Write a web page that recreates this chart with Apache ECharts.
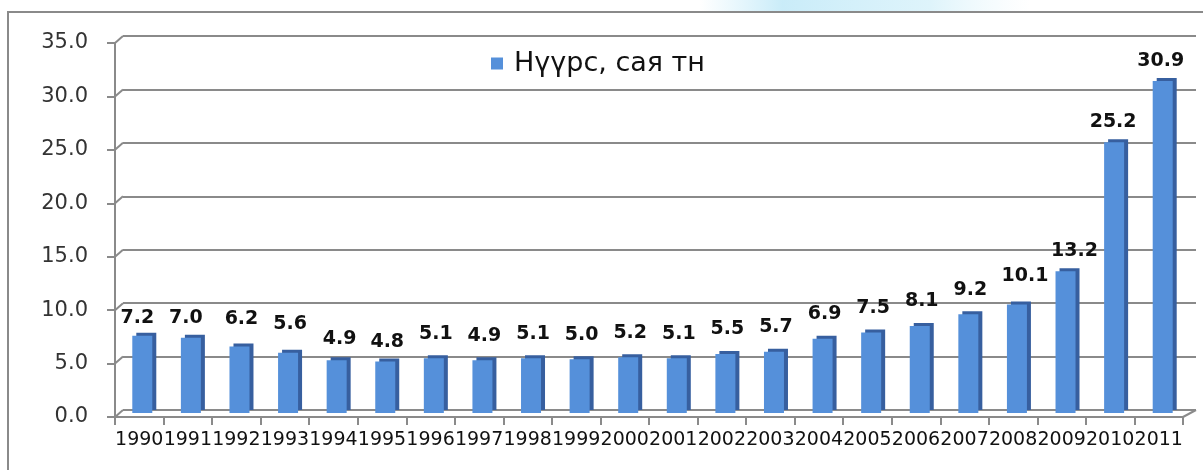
<!DOCTYPE html>
<html>
<head>
<meta charset="utf-8">
<script src="https://cdn.jsdelivr.net/npm/echarts@6/dist/echarts.min.js"></script>
<style>
    html, body { margin: 0; padding: 0; background: #fff; }
    #chart { width: 1203px; height: 470px; }
</style>
</head>
<body>
<div id="chart"></div>
<script>
// coal output, million tonnes
let years = ['1990', '1991', '1992', '1993', '1994', '1995', '1996', '1997', '1998', '1999', '2000',
    '2001', '2002', '2003', '2004', '2005', '2006', '2007', '2008', '2009', '2010', '2011'];
let coal = [7.2, 7.0, 6.2, 5.6, 4.9, 4.8, 5.1, 4.9, 5.1, 5.0, 5.2,
    5.1, 5.5, 5.7, 6.9, 7.5, 8.1, 9.2, 10.1, 13.2, 25.2, 30.9];
let yTicks = [0, 5, 10, 15, 20, 25, 30, 35];
let seriesName = 'Нүүрс, сая тн';

// label placement in the source is a little uneven: [px right of bar centre, px above bar top]
let labelNudge = [[-5, 8], [-5, 10], [2, 18], [2, 19], [3, 12], [2, 10], [2, 15], [2, 15],
    [2, 15], [2, 15], [2, 15], [2, 15], [2, 15], [2, 15], [2, 15], [2, 15], [2, 15],
    [2, 15], [8, 19], [9, 11], [-1, 11], [-2, 10]];

let gray = '#8a8a8a';
let yMin = yTicks[0];
let yMax = yTicks[yTicks.length - 1];
let yStep = yTicks[1] - yTicks[0];

let valueAxis = (gridIndex, extra) => Object.assign({
    type: 'value',
    gridIndex: gridIndex,
    min: yMin,
    max: yMax,
    interval: yStep,
    axisLine: { show: false },
    axisTick: { show: false },
    axisLabel: { show: false },
    splitLine: { show: false }
}, extra);

let catAxis = (gridIndex, extra) => Object.assign({
    type: 'category',
    gridIndex: gridIndex,
    data: years,
    axisLine: { show: false },
    axisTick: { show: false },
    axisLabel: { show: false },
    splitLine: { show: false }
}, extra);

let option = {
    animation: false,
    backgroundColor: '#fff',
    graphic: [
        {   // faint logo smear above the frame
            type: 'rect',
            z: -10,
            shape: { x: 700, y: 0, width: 330, height: 13 },
            style: {
                fill: {
                    type: 'linear', x: 0, y: 0, x2: 1, y2: 0,
                    colorStops: [
                        { offset: 0, color: 'rgba(200,236,250,0)' },
                        { offset: 0.25, color: 'rgba(196,234,248,0.9)' },
                        { offset: 0.7, color: 'rgba(214,241,250,0.8)' },
                        { offset: 1, color: 'rgba(230,246,252,0)' }
                    ]
                }
            }
        },
        {   // chart frame
            type: 'rect',
            shape: { x: 8, y: 12, width: 1230, height: 500 },
            style: { fill: 'none', stroke: gray, lineWidth: 2 }
        }
    ],
    legend: {
        left: 486,
        top: 45,
        icon: 'rect',
        itemWidth: 12,
        itemHeight: 12,
        textStyle: {
            fontFamily: 'DejaVu Sans',
            fontSize: 27,
            color: '#111',
            padding: [0, 0, 0, 6]
        },
        data: [seriesName]
    },
    grid: [
        // front: axis labels and ticks
        { left: 115, right: 20, top: 43, bottom: 53 },
        // middle: bars
        { left: 118, right: 16, top: 37, bottom: 57 },
        // back wall: grid lines
        { left: 123, right: 7, top: 36, bottom: 60 }
    ],
    xAxis: [
        catAxis(0, {
            axisLine: { show: true, lineStyle: { color: gray, width: 2 } },
            axisTick: { show: true, length: 8, lineStyle: { color: gray, width: 2 } },
            axisLabel: {
                show: true,
                interval: 0,
                margin: 14,
                fontFamily: 'DejaVu Sans',
                fontSize: 19,
                color: '#111'
            }
        }),
        catAxis(1),
        catAxis(2)
    ],
    yAxis: [
        valueAxis(0, {
            axisLine: { show: true, lineStyle: { color: gray, width: 2 } },
            axisTick: { show: true, length: 8, lineStyle: { color: gray, width: 2 } },
            axisLabel: {
                show: true,
                margin: 27,
                fontFamily: 'DejaVu Sans',
                fontSize: 21,
                color: '#333',
                formatter: v => v.toFixed(1)
            }
        }),
        valueAxis(1),
        valueAxis(2, {
            splitLine: { show: true, lineStyle: { color: gray, width: 2 } }
        })
    ],
    series: [
        {   // slanted joins from the front ticks to the back grid lines
            type: 'custom',
            xAxisIndex: 0,
            yAxisIndex: 0,
            silent: true,
            data: yTicks.map(v => [0, v]),
            renderItem: (params, api) => {
                let cs = params.coordSys;
                let y = api.coord([0, api.value(1)])[1];
                let children = [{
                    type: 'line',
                    shape: { x1: cs.x, y1: y, x2: cs.x + 8, y2: y - 7 },
                    style: { stroke: gray, lineWidth: 2 }
                }];
                if (api.value(1) === yMin) {
                    children.push({
                        type: 'line',
                        shape: { x1: cs.x + cs.width, y1: y, x2: cs.x + cs.width + 13, y2: y - 7 },
                        style: { stroke: gray, lineWidth: 2 }
                    });
                }
                return { type: 'group', children: children };
            }
        },
        {
            name: seriesName,
            type: 'bar',
            xAxisIndex: 1,
            yAxisIndex: 1,
            barWidth: 20,
            data: coal.map((v, i) => ({
                value: v,
                label: { distance: labelNudge[i][1], offset: [labelNudge[i][0], 0] }
            })),
            itemStyle: {
                color: '#5590da',
                shadowColor: '#375f9f',
                shadowBlur: 0,
                shadowOffsetX: 4,
                shadowOffsetY: -3
            },
            label: {
                show: true,
                position: 'top',
                fontFamily: 'DejaVu Sans',
                fontWeight: 'bold',
                fontSize: 19,
                color: '#111',
                formatter: p => p.value.toFixed(1)
            }
        }
    ]
};

let myChart = echarts.init(document.getElementById('chart'));
myChart.setOption(option);
</script>
</body>
</html>
